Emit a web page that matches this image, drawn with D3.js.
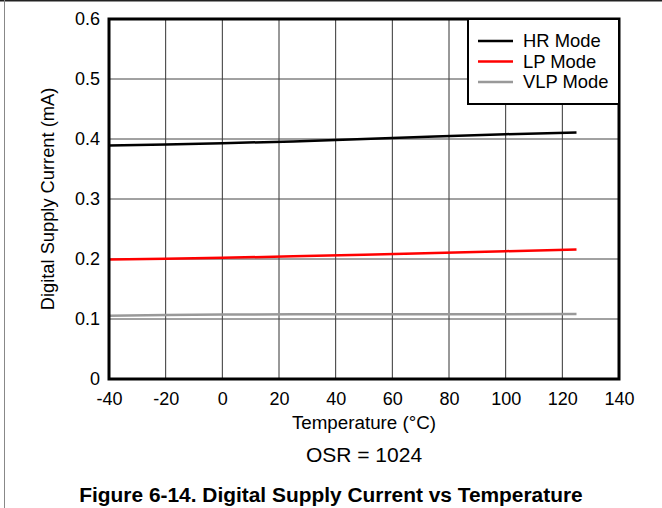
<!DOCTYPE html>
<html><head><meta charset="utf-8">
<script src="https://cdn.jsdelivr.net/npm/d3@7"></script>
<style>body{margin:0;background:#fff}svg{display:block}text{font-family:"Liberation Sans",Arial,sans-serif}</style>
</head><body><svg id="c" width="662" height="508"></svg>
<script>
const temps = [-40, -20, 0, 25, 50, 75, 100, 125];
const hrMode = [0.389, 0.391, 0.393, 0.396, 0.400, 0.404, 0.408, 0.411];
const lpMode = [0.199, 0.2005, 0.202, 0.2045, 0.207, 0.210, 0.213, 0.216];
const vlpMode = [0.1055, 0.1065, 0.1073, 0.108, 0.108, 0.108, 0.108, 0.1083];
const xTicks = [-40, -20, 0, 20, 40, 60, 80, 100, 120, 140];
const yTicks = [0, 0.1, 0.2, 0.3, 0.4, 0.5, 0.6];
const seriesNames = ["HR Mode", "LP Mode", "VLP Mode"];
const seriesColors = ["#000000", "#ff0000", "#999999"];

const svg = d3.select("#c");
const L = 109, R = 619, T = 19, B = 379;
const x = d3.scaleLinear().domain([-40, 140]).range([L, R]);
const y = d3.scaleLinear().domain([0, 0.6]).range([B, T]);
const FF = "Liberation Sans, Arial, sans-serif";

// outer frame
svg.append("line").attr("x1",0).attr("x2",662).attr("y1",0.75).attr("y2",0.75).attr("stroke","#222").attr("stroke-width",1.5);
svg.append("line").attr("x1",4.5).attr("x2",4.5).attr("y1",0).attr("y2",508).attr("stroke","#888").attr("stroke-width",1);

// grid
const g = svg.append("g");
g.selectAll(".gx").data(xTicks.slice(1,-1)).join("line")
  .attr("x1",d=>x(d)).attr("x2",d=>x(d)).attr("y1",T).attr("y2",B)
  .attr("stroke","#333").attr("stroke-width",1);
g.selectAll(".gy").data(yTicks.slice(1,-1)).join("line")
  .attr("x1",L).attr("x2",R).attr("y1",d=>y(d)).attr("y2",d=>y(d))
  .attr("stroke","#444").attr("stroke-width",1);

// axes labels via d3 axes
const xa = svg.append("g").attr("transform",`translate(0,${B})`)
  .call(d3.axisBottom(x).tickValues(xTicks).tickSize(0).tickPadding(13).tickFormat(d=>String(d)));
xa.select(".domain").remove();
xa.attr("font-size",18).attr("font-family",FF);
xa.selectAll("text").attr("fill","#000");
const ya = svg.append("g").attr("transform",`translate(${L},0)`)
  .call(d3.axisLeft(y).tickValues(yTicks).tickSize(0).tickPadding(9).tickFormat(d=>d===0?"0":d.toFixed(1)));
ya.select(".domain").remove();
ya.attr("font-size",18).attr("font-family",FF);
ya.selectAll("text").attr("fill","#000");

// data lines
const line = d3.line().x((d,i)=>x(temps[i])).y(d=>y(d));
[hrMode, lpMode, vlpMode].forEach((s,i)=>{
  svg.append("path").attr("d",line(s)).attr("fill","none")
    .attr("stroke",seriesColors[i]).attr("stroke-width",2.5);
});

// plot frame
svg.append("rect").attr("x",L).attr("y",T).attr("width",R-L).attr("height",B-T)
  .attr("fill","none").attr("stroke","#000").attr("stroke-width",3);

// legend
const lg = svg.append("g");
lg.append("rect").attr("x",468).attr("y",T).attr("width",R-468).attr("height",104-T)
  .attr("fill","#fff").attr("stroke","#000").attr("stroke-width",2);
seriesNames.forEach((n,i)=>{
  const yy = 41 + i*20.5;
  lg.append("line").attr("x1",478).attr("x2",513).attr("y1",yy).attr("y2",yy)
    .attr("stroke",seriesColors[i]).attr("stroke-width",2.5);
  lg.append("text").attr("x",523).attr("y",yy).attr("dy","0.35em")
    .attr("font-size",18.4).text(n);
});

// titles
svg.append("text").attr("x",(L+R)/2).attr("y",422).attr("dy","0.35em").attr("text-anchor","middle")
  .attr("font-size",18.8).text("Temperature (°C)");
svg.append("text").attr("transform",`translate(48,${(T+B)/2}) rotate(-90)`).attr("dy","0.35em")
  .attr("text-anchor","middle").attr("font-size",18.3).text("Digital Supply Current (mA)");
svg.append("text").attr("x",(L+R)/2).attr("y",455).attr("dy","0.35em").attr("text-anchor","middle")
  .attr("font-size",21).text("OSR = 1024");
svg.append("text").attr("x",331).attr("y",495).attr("dy","0.35em").attr("text-anchor","middle")
  .attr("font-size",20.9).attr("font-weight","bold").text("Figure 6-14. Digital Supply Current vs Temperature");
</script></body></html>
